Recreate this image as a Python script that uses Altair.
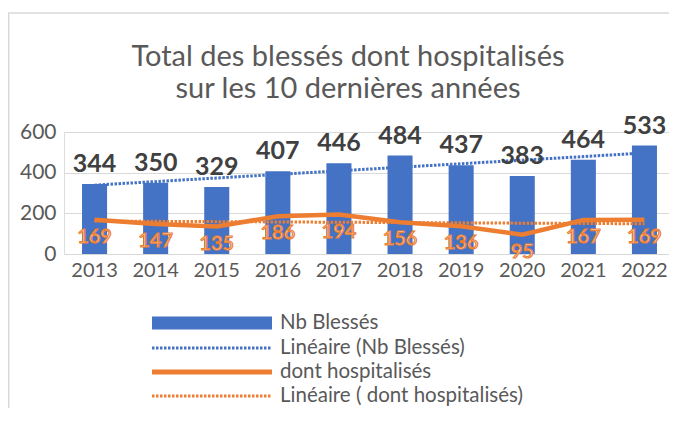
import altair as alt
import pandas as pd

years = [2013, 2014, 2015, 2016, 2017, 2018, 2019, 2020, 2021, 2022]
nb_blesses = [344, 350, 329, 407, 446, 484, 437, 383, 464, 533]
hospitalises = [169, 147, 135, 186, 194, 156, 136, 95, 167, 169]
y_ticks = [0, 200, 400, 600]
title_lines = ["Total des blessés dont hospitalisés", "sur les 10 dernières années"]
legend_labels = ["Nb Blessés", "Linéaire (Nb Blessés)", " dont hospitalisés", "Linéaire ( dont hospitalisés)"]

BLUE = "#4472C4"
ORANGE = "#ED7D31"
GREY = "#595959"
FONT = "Lato"

df = pd.DataFrame({"year": years, "blesses": nb_blesses, "hosp": hospitalises})

W, H = 611, 122
PAD = {"left": 56, "top": 124, "right": -6, "bottom": 154}

xenc = alt.X("year:O", title=None,
             scale=alt.Scale(paddingInner=0.59, paddingOuter=0.295),
             axis=alt.Axis(labelAngle=0, domain=False, ticks=False, labelPadding=6,
                           labelFontSize=20, labelColor=GREY, labelFont=FONT, grid=False))
yscale = alt.Scale(domain=[0, 600])
yaxis = alt.Axis(values=y_ticks, domain=False, ticks=False, labelPadding=8,
                 labelFontSize=21, labelColor=GREY, labelFont=FONT,
                 grid=True, gridColor="#D9D9D9", gridWidth=1)

base = alt.Chart(df)

bars = base.mark_bar(color=BLUE).encode(
    x=xenc, y=alt.Y("blesses:Q", scale=yscale, axis=yaxis, title=None))

trend_b = base.transform_regression("year", "blesses").mark_line(
    color=BLUE, strokeWidth=3, strokeDash=[2.5, 1.5]).encode(
    x="year:O", y=alt.Y("blesses:Q", title=None))

line_h = base.mark_line(color=ORANGE, strokeWidth=4.5).encode(
    x="year:O", y=alt.Y("hosp:Q", title=None))

trend_h = base.transform_regression("year", "hosp").mark_line(
    color=ORANGE, strokeWidth=3, strokeDash=[2.5, 1.5]).encode(
    x="year:O", y=alt.Y("hosp:Q", title=None))

lab_b = base.mark_text(dy=-12, baseline="alphabetic", fontSize=25, fontWeight="bold",
                       font=FONT, color="#404040").encode(
    x="year:O", y=alt.Y("blesses:Q", title=None), text="blesses:Q")

lab_h = base.mark_text(dy=17, baseline="middle", fontSize=20, font=FONT,
                       fill="white", stroke=ORANGE, strokeWidth=1.2).encode(
    x="year:O", y=alt.Y("hosp:Q", title=None), text="hosp:Q")

# title
title_layers = []
for i, t in enumerate(title_lines):
    title_layers.append(
        alt.Chart(pd.DataFrame({"t": [t]})).mark_text(
            fontSize=29, font=FONT, color=GREY, align="center", baseline="middle").encode(
            x=alt.value(284), y=alt.value(-75 + 32 * i), text="t:N"))

# legend
ly = [191, 216, 240, 264]
lx1, lx2, ltx = 88, 208, 216
leg = []
leg.append(alt.Chart(pd.DataFrame({"l": [legend_labels[0]]})).mark_rect(color=BLUE).encode(
    x=alt.value(lx1), x2=alt.value(lx2), y=alt.value(ly[0] - 6.5), y2=alt.value(ly[0] + 6.5)))
leg.append(alt.Chart(pd.DataFrame({"l": [legend_labels[1]]})).mark_rule(
    color=BLUE, strokeWidth=3, strokeDash=[2.5, 1.5]).encode(
    x=alt.value(lx1), x2=alt.value(lx2), y=alt.value(ly[1])))
leg.append(alt.Chart(pd.DataFrame({"l": [legend_labels[2]]})).mark_rule(
    color=ORANGE, strokeWidth=5).encode(
    x=alt.value(lx1), x2=alt.value(lx2), y=alt.value(ly[2])))
leg.append(alt.Chart(pd.DataFrame({"l": [legend_labels[3]]})).mark_rule(
    color=ORANGE, strokeWidth=3, strokeDash=[2.5, 1.5]).encode(
    x=alt.value(lx1), x2=alt.value(lx2), y=alt.value(ly[3])))
for i, lab in enumerate(legend_labels):
    leg.append(alt.Chart(pd.DataFrame({"l": [lab]})).mark_text(
        fontSize=20.5, font=FONT, color=GREY, align="left", baseline="middle").encode(
        x=alt.value(ltx), y=alt.value(ly[i]), text="l:N"))

# chart frame border
frame = [
    alt.Chart(pd.DataFrame({"f": [0]})).mark_rule(color="#D9D9D9", strokeWidth=1.5).encode(
        x=alt.value(-56), x2=alt.value(W), y=alt.value(-119)),
    alt.Chart(pd.DataFrame({"f": [0]})).mark_rule(color="#D9D9D9", strokeWidth=1.5).encode(
        x=alt.value(-55.3), y=alt.value(-119), y2=alt.value(H + 154)),
]

chart = alt.layer(
    *frame, bars, trend_b, line_h, trend_h, lab_b, lab_h, *title_layers, *leg
).properties(
    width=W, height=H,
    autosize=alt.AutoSizeParams(type="none"),
    padding=PAD,
).configure_view(stroke=None).configure(background="white")

chart.save("out.html", embed_options={"renderer": "svg", "actions": False})
